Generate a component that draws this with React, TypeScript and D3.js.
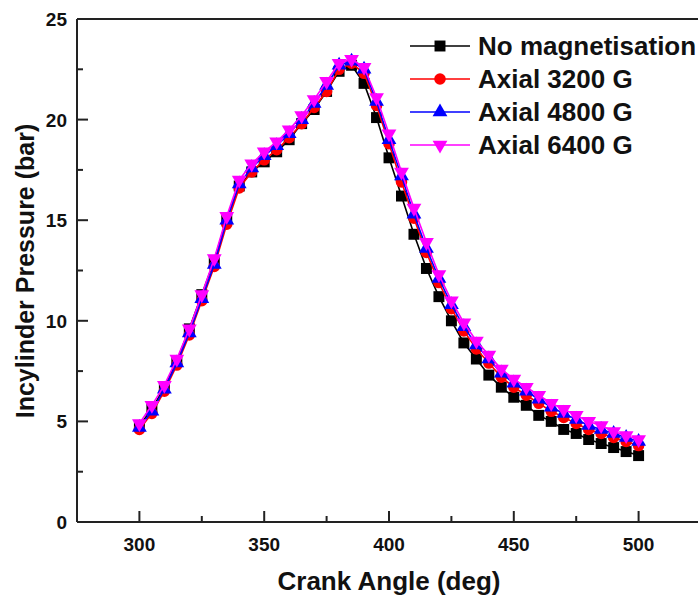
import React from "react";
import * as d3 from "d3";

// crank angle (deg)
const angles = [
  300, 305, 310, 315, 320, 325, 330, 335, 340, 345, 350, 355, 360, 365, 370, 375, 380, 385, 390, 395,
  400, 405, 410, 415, 420, 425, 430, 435, 440, 445, 450, 455, 460, 465, 470, 475, 480, 485, 490, 495, 500,
];

// in-cylinder pressure (bar)
const noMag = [
  4.8, 5.6, 6.7, 8.0, 9.6, 11.3, 13.0, 15.1, 16.7, 17.4, 17.9, 18.4, 19.0, 19.8, 20.5, 21.4, 22.4, 22.7, 21.8, 20.1,
  18.1, 16.2, 14.3, 12.6, 11.2, 10.0, 8.9, 8.1, 7.3, 6.7, 6.2, 5.8, 5.3, 5.0, 4.6, 4.4, 4.1, 3.9, 3.7, 3.5, 3.3,
];
const axial3200 = [
  4.6, 5.4, 6.5, 7.8, 9.3, 11.0, 12.7, 14.8, 16.6, 17.4, 18.0, 18.5, 19.1, 19.8, 20.6, 21.4, 22.5, 22.8, 22.3, 20.7,
  18.8, 16.9, 15.1, 13.4, 11.9, 10.6, 9.5, 8.6, 7.9, 7.2, 6.7, 6.3, 5.9, 5.5, 5.2, 4.9, 4.6, 4.4, 4.2, 4.0, 3.8,
];
const axial4800 = [
  4.7, 5.5, 6.6, 7.9, 9.4, 11.1, 12.8, 15.0, 16.8, 17.6, 18.2, 18.7, 19.3, 20.0, 20.8, 21.7, 22.7, 22.9, 22.5, 20.9,
  19.0, 17.2, 15.3, 13.6, 12.1, 10.8, 9.7, 8.8, 8.1, 7.4, 6.9, 6.5, 6.1, 5.7, 5.4, 5.1, 4.8, 4.6, 4.4, 4.2, 4.0,
];
const axial6400 = [
  4.9, 5.8, 6.8, 8.1, 9.6, 11.3, 13.1, 15.2, 17.0, 17.8, 18.4, 18.9, 19.5, 20.2, 21.0, 21.9, 22.8, 23.0, 22.6, 21.1,
  19.3, 17.4, 15.6, 13.9, 12.3, 11.0, 9.9, 9.0, 8.3, 7.6, 7.1, 6.7, 6.3, 5.9, 5.6, 5.3, 5.0, 4.8, 4.5, 4.3, 4.1,
];

const seriesNames = ["No magnetisation", "Axial 3200 G", "Axial 4800 G", "Axial 6400 G"];
const xTicks = [300, 350, 400, 450, 500];
const yTicks = [0, 5, 10, 15, 20, 25];

const W = 698;
const H = 598;
const FONT = "'Liberation Sans', Arial, sans-serif";

const series = [
  { name: seriesNames[0], values: noMag, color: "#000000", shape: d3.symbolSquare, size: 120, rot: 0 },
  { name: seriesNames[1], values: axial3200, color: "#ff0000", shape: d3.symbolCircle, size: 105, rot: 0 },
  { name: seriesNames[2], values: axial4800, color: "#0000ff", shape: d3.symbolTriangle, size: 95, rot: 0 },
  { name: seriesNames[3], values: axial6400, color: "#ff00ff", shape: d3.symbolTriangle, size: 95, rot: 180 },
];

export default function App() {
  const x = d3.scaleLinear().domain([275, 525]).range([77, 701]);
  const y = d3.scaleLinear().domain([0, 25]).range([522, 19]);

  const line = d3
    .line<number>()
    .x((_, i) => x(angles[i]))
    .y((d) => y(d));

  const xMinor = d3.range(275, 526, 25).filter((v) => v % 50 !== 0);
  const yMinor = d3.range(2.5, 25, 5);

  return (
    <svg width={W} height={H} style={{ position: "absolute", left: 0, top: 0, background: "#fff" }}>
      {/* frame */}
      <g stroke="#222" strokeWidth={2} fill="none">
        <line x1={77} x2={77} y1={19} y2={522} />
        <line x1={77} x2={701} y1={522} y2={522} />
        <line x1={77} x2={701} y1={19} y2={19} />
      </g>

      {/* ticks */}
      <g stroke="#222" strokeWidth={2}>
        {xTicks.map((t) => (
          <line key={"xt" + t} x1={x(t)} x2={x(t)} y1={522} y2={511} />
        ))}
        {xMinor.map((t) => (
          <line key={"xm" + t} x1={x(t)} x2={x(t)} y1={522} y2={516} />
        ))}
        {yTicks.map((t) => (
          <line key={"yt" + t} x1={77} x2={88} y1={y(t)} y2={y(t)} />
        ))}
        {yMinor.map((t) => (
          <line key={"ym" + t} x1={77} x2={83} y1={y(t)} y2={y(t)} />
        ))}
      </g>

      <g fontFamily={FONT} fontWeight="bold" fontSize={19} fill="#111">
        {xTicks.map((t) => (
          <text key={"xl" + t} x={x(t)} y={551} textAnchor="middle">
            {t}
          </text>
        ))}
        {yTicks.map((t) => (
          <text key={"yl" + t} x={67} y={y(t) + 7} textAnchor="end">
            {t}
          </text>
        ))}
      </g>

      {/* axis titles */}
      <text x={389} y={590} textAnchor="middle" fontFamily={FONT} fontWeight="bold" fontSize={26} fill="#111">
        Crank Angle (deg)
      </text>
      <text
        transform="translate(34,271) rotate(-90)"
        textAnchor="middle"
        fontFamily={FONT}
        fontWeight="bold"
        fontSize={25}
        fill="#111"
      >
        Incylinder Pressure (bar)
      </text>

      {/* series */}
      {series.map((s) => (
        <g key={s.name}>
          <path d={line(s.values) || ""} fill="none" stroke={s.color} strokeWidth={1.6} />
          {s.values.map((v, i) => (
            <path
              key={i}
              d={d3.symbol().type(s.shape).size(s.size)() || ""}
              transform={`translate(${x(angles[i])},${y(v)}) rotate(${s.rot})`}
              fill={s.color}
            />
          ))}
        </g>
      ))}

      {/* legend */}
      {series.map((s, i) => {
        const ly = 46 + i * 33;
        return (
          <g key={"lg" + s.name}>
            <line x1={410} x2={470} y1={ly} y2={ly} stroke={s.color} strokeWidth={1.6} />
            <path
              d={d3.symbol().type(s.shape).size(s.size)() || ""}
              transform={`translate(440,${ly}) rotate(${s.rot})`}
              fill={s.color}
            />
            <text x={478} y={ly + 9} fontFamily={FONT} fontWeight="bold" fontSize={26} fill="#111">
              {s.name}
            </text>
          </g>
        );
      })}
    </svg>
  );
}
